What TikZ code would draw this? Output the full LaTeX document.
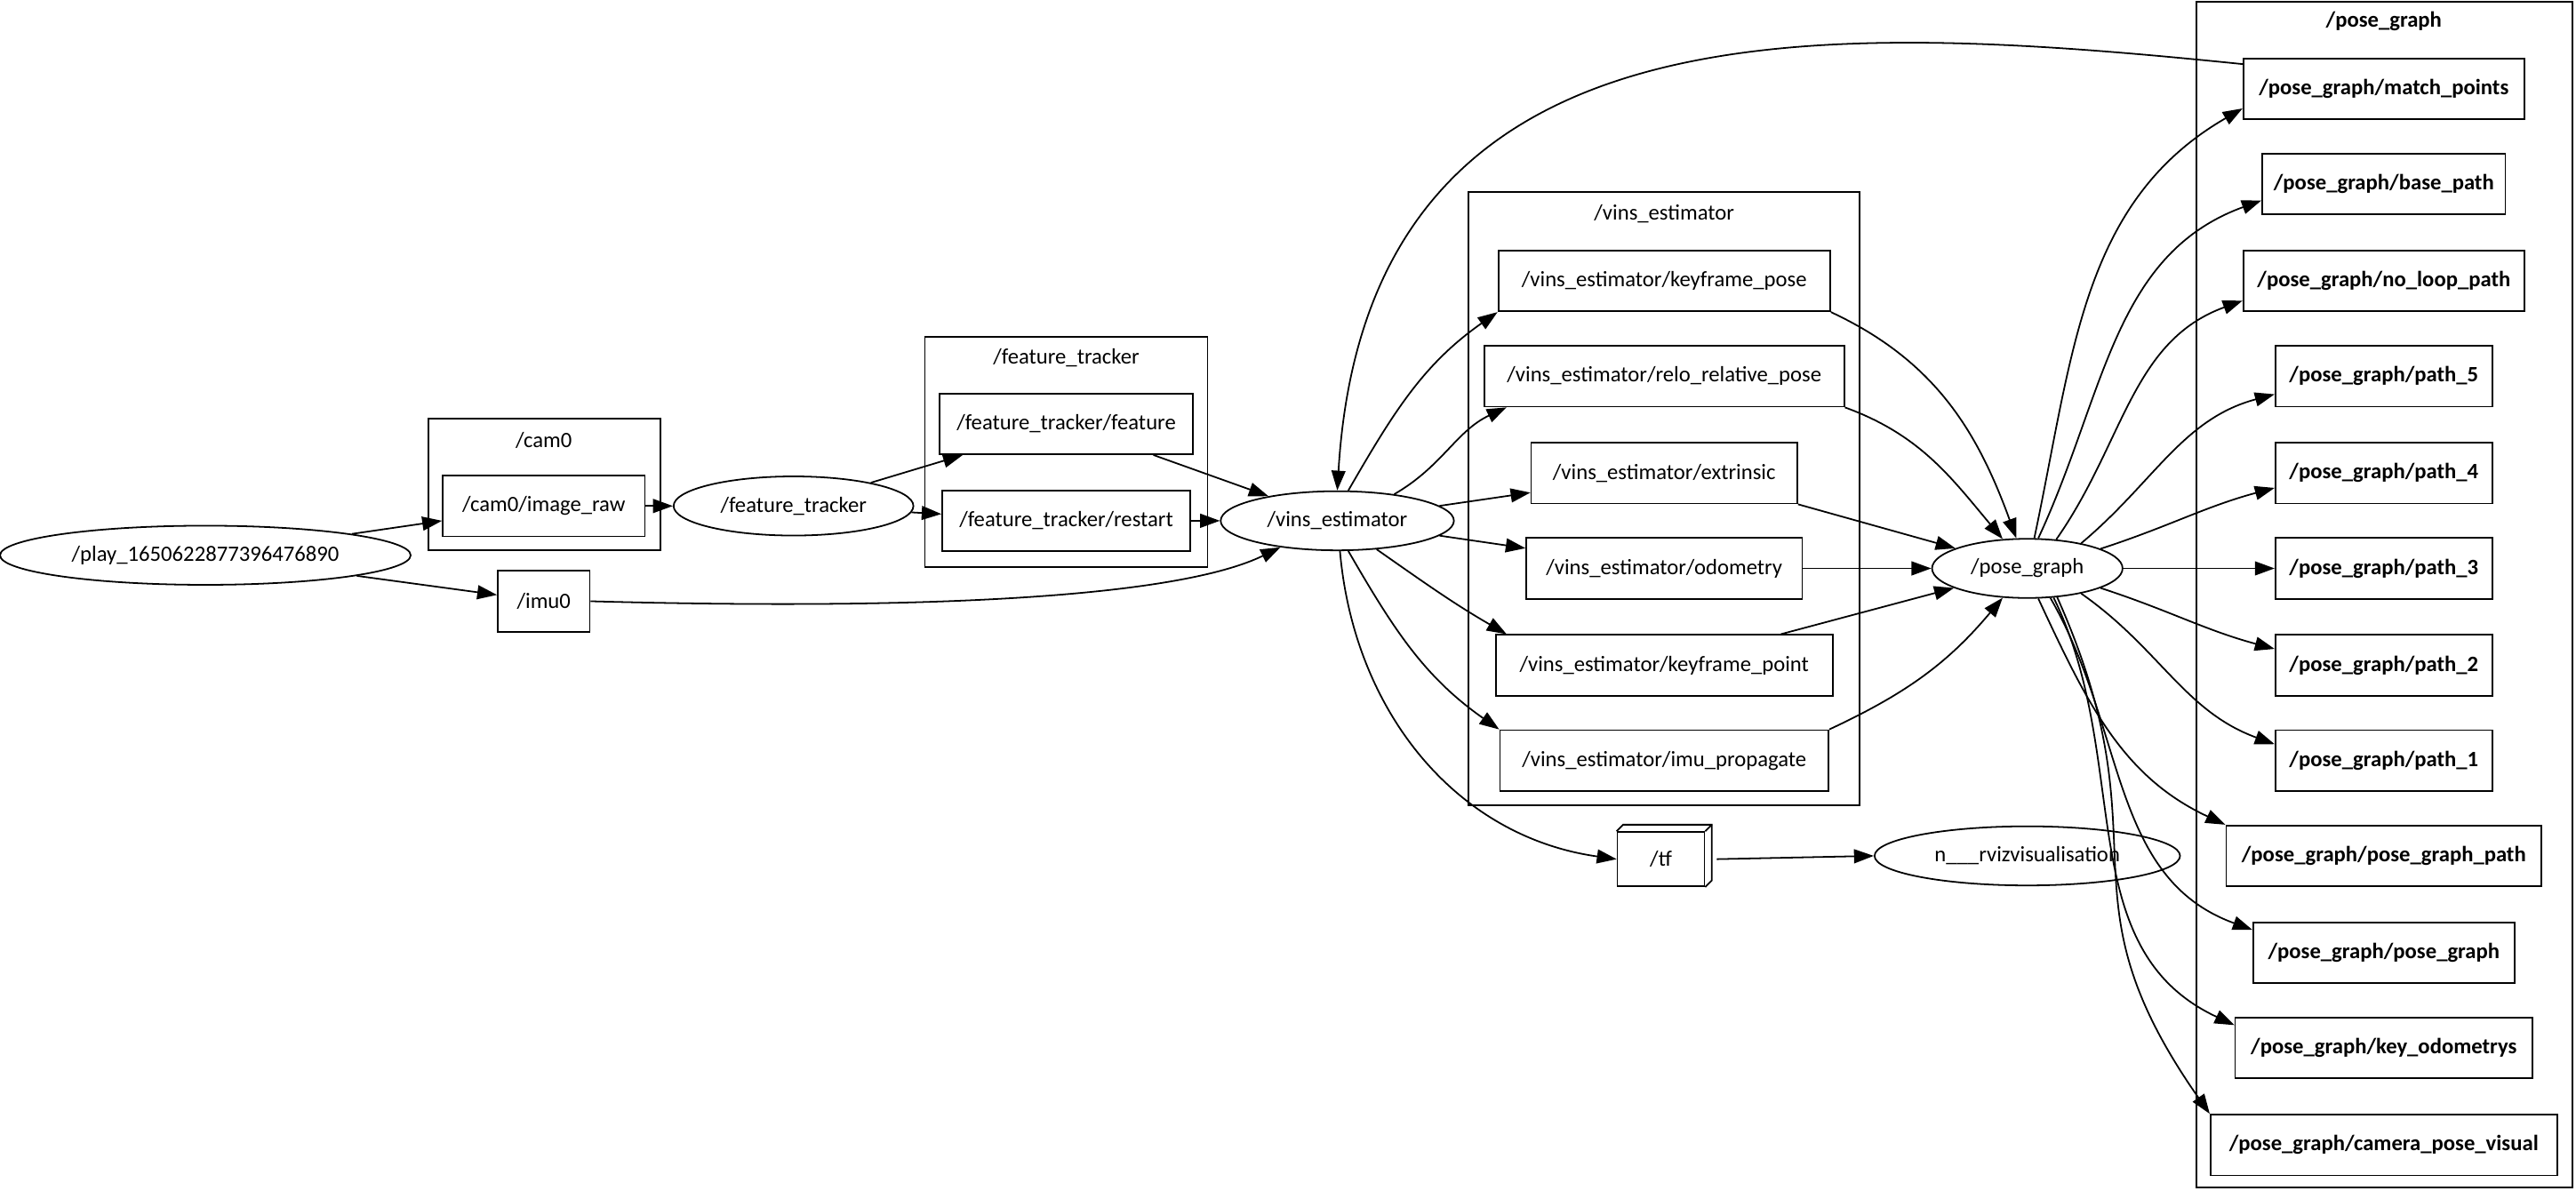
\documentclass[tikz,border=0pt]{standalone}
\usepackage{fontspec}
\setmainfont{Carlito}
\usepackage{tikz}
\usetikzlibrary{shapes.geometric}
\usetikzlibrary{arrows.meta}
\usetikzlibrary{positioning}

\begin{document}
\begin{tikzpicture}[x=0.02cm, y=-0.02cm, line width=0.55pt,
    every node/.style={font=\fontsize{7.6}{9}\selectfont},
    topicbox/.style={draw, rectangle, minimum height=0.74cm, minimum width=#1, inner sep=0pt},
    nodeoval/.style={draw, ellipse, minimum height=0.72cm, minimum width=#1, inner sep=0pt},
    pgbox/.style={topicbox=#1, font=\fontsize{7.6}{9}\selectfont\bfseries},
    arr/.style={-{Triangle[length=0.24cm, width=0.17cm]}}]
            \useasboundingbox (0,0) rectangle (1568,725);

            % clusters
            \draw (261,255) rectangle (402,335);
            \node (cam0lbl) at (331,268) {/cam0};
            \draw (563,205) rectangle (735,345);
            \node (ftlbl)   at (649,218) {/feature\_tracker};
            \draw (894,117) rectangle (1132,490);
            \node (velbl)   at (1013,130) {/vins\_estimator};
            \draw (1337,1) rectangle (1566,723);
            \node[font=\fontsize{7.6}{9}\selectfont\bfseries] (pglbl) at (1451,13) {/pose\_graph};

            % nodes and topics
            \node[nodeoval=5.00cm] (play)    at (125,338)  {/play\_1650622877396476890};
            \node[topicbox=2.46cm] (imgraw)  at (331,308)  {/cam0/image\_raw};
            \node[topicbox=1.12cm] (imu)     at (331,366)  {/imu0};
            \node[nodeoval=2.92cm] (ftrk)    at (483,308)  {/feature\_tracker};
            \node[topicbox=3.08cm] (feat)    at (649,258)  {/feature\_tracker/feature};
            \node[topicbox=3.02cm] (rst)     at (649,317)  {/feature\_tracker/restart};
            \node[nodeoval=2.84cm] (vins)    at (814,317)  {/vins\_estimator};
            \node[topicbox=4.04cm] (kfpose)  at (1013,171) {/vins\_estimator/keyframe\_pose};
            \node[topicbox=4.38cm] (relo)    at (1013,229) {/vins\_estimator/relo\_relative\_pose};
            \node[topicbox=3.24cm] (extr)    at (1013,288) {/vins\_estimator/extrinsic};
            \node[topicbox=3.36cm] (odom)    at (1013,346) {/vins\_estimator/odometry};
            \node[topicbox=4.10cm] (kfpt)    at (1013,405) {/vins\_estimator/keyframe\_point};
            \node[topicbox=4.00cm] (imuprop) at (1013,463) {/vins\_estimator/imu\_propagate};
            \node[nodeoval=2.32cm] (pg)      at (1234,346) {/pose\_graph};
            \node[topicbox=1.06cm, minimum height=0.66cm] (tf) at (1011,523) {/tf};
            \draw (tf.north west) -- ++(4,-4) -- ([shift={(4,-4)}]tf.north east) -- ([shift={(4,-4)}]tf.south east) -- (tf.south east);
            \draw (tf.north east) -- ++(4,-4);
            \node[nodeoval=3.72cm] (rviz)    at (1234,521) {n\_\_\_rvizvisualisation};

            \node[pgbox=3.42cm] (mpts)    at (1451,54)  {/pose\_graph/match\_points};
            \node[pgbox=2.96cm] (bpath)   at (1451,112) {/pose\_graph/base\_path};
            \node[pgbox=3.42cm] (nlpath)  at (1451,171) {/pose\_graph/no\_loop\_path};
            \foreach \i/\y in {5/229, 4/288, 3/346, 2/405, 1/463}
                \node[pgbox=2.64cm] (path\i) at (1451,\y) {/pose\_graph/path\_\i};
            \node[pgbox=3.84cm] (pgpath)  at (1451,521) {/pose\_graph/pose\_graph\_path};
            \node[pgbox=3.18cm] (pgpg)    at (1451,580) {/pose\_graph/pose\_graph};
            \node[pgbox=3.62cm] (keyodo)  at (1451,638) {/pose\_graph/key\_odometrys};
            \node[pgbox=4.22cm] (campose) at (1451,697) {/pose\_graph/camera\_pose\_visual};

            % left part
            \draw[arr] (play) -- (imgraw);
            \draw[arr] (play) -- (imu);
            \draw[arr] (imgraw) -- (ftrk);
            \draw[arr] (ftrk) -- (feat);
            \draw[arr] (ftrk) -- (rst);
            \draw[arr] (feat) -- (vins);
            \draw[arr] (rst) -- (vins);
            \draw[arr] (imu.east) .. controls (580,372) and (720,362) .. (vins.205);
            \draw[arr] ([yshift=0.3cm]mpts.west) .. controls (1100,12) and (832,0) .. (vins.north);

            % vins_estimator
            \draw[arr] (vins.70)  to[out=60, in=215]  (kfpose.south west);
            \draw[arr] (vins.25)  to[out=30, in=205]  ([xshift=0.28cm]relo.south west);
            \draw[arr] (vins) -- (extr);
            \draw[arr] (vins) -- (odom);
            \draw[arr] (vins.-36) to[out=-35, in=150] ([xshift=0.14cm]kfpt.north west);
            \draw[arr] (vins.-70) to[out=-60, in=145] (imuprop.north west);
            \draw[arr] (vins.-85) to[out=-85, in=172] (tf.west);
            \draw[arr] ([xshift=4]tf.east) -- (rviz.west);

            \draw[arr] (kfpose.south east) to[out=-25, in=110]  (pg);
            \draw[arr] (relo.south east)   to[out=-20, in=130]  (pg);
            \draw[arr] (extr.south east) -- (pg);
            \draw[arr] (odom) -- (pg);
            \draw[arr] (kfpt) -- (pg);
            \draw[arr] (imuprop.north east) to[out=25, in=-130] (pg);

            % pose_graph
            \draw[arr] (pg.77)  to[out=78, in=210]  ([yshift=-0.24cm]mpts.west);
            \draw[arr] (pg.70)  to[out=65, in=200]  ([yshift=-0.2cm]bpath.west);
            \draw[arr] (pg.45)  to[out=55, in=200]  ([yshift=-0.24cm]nlpath.west);
            \draw[arr] (pg.25)  to[out=40, in=195]  ([yshift=-0.22cm]path5.west);
            \draw[arr] (pg.15)  to[out=18, in=195]  ([yshift=-0.18cm]path4.west);
            \draw[arr] (pg) -- (path3);
            \draw[arr] (pg.-15) to[out=-18, in=165] ([yshift=0.2cm]path2.west);
            \draw[arr] (pg.-25) to[out=-35, in=160] ([yshift=0.2cm]path1.west);
            \draw[arr] (pg.-70) to[out=-65, in=155] (pgpath.north west);
            \draw[arr] (pg.-52) to[out=-60, in=160] ([yshift=-0.1cm]pgpg.north west);
            \draw[arr] (pg.-48) to[out=-64, in=155] ([yshift=-0.1cm]keyodo.north west);
            \draw[arr] (pg.-44) to[out=-66, in=125, looseness=1.3] (campose.north west);
\end{tikzpicture}
\end{document}
